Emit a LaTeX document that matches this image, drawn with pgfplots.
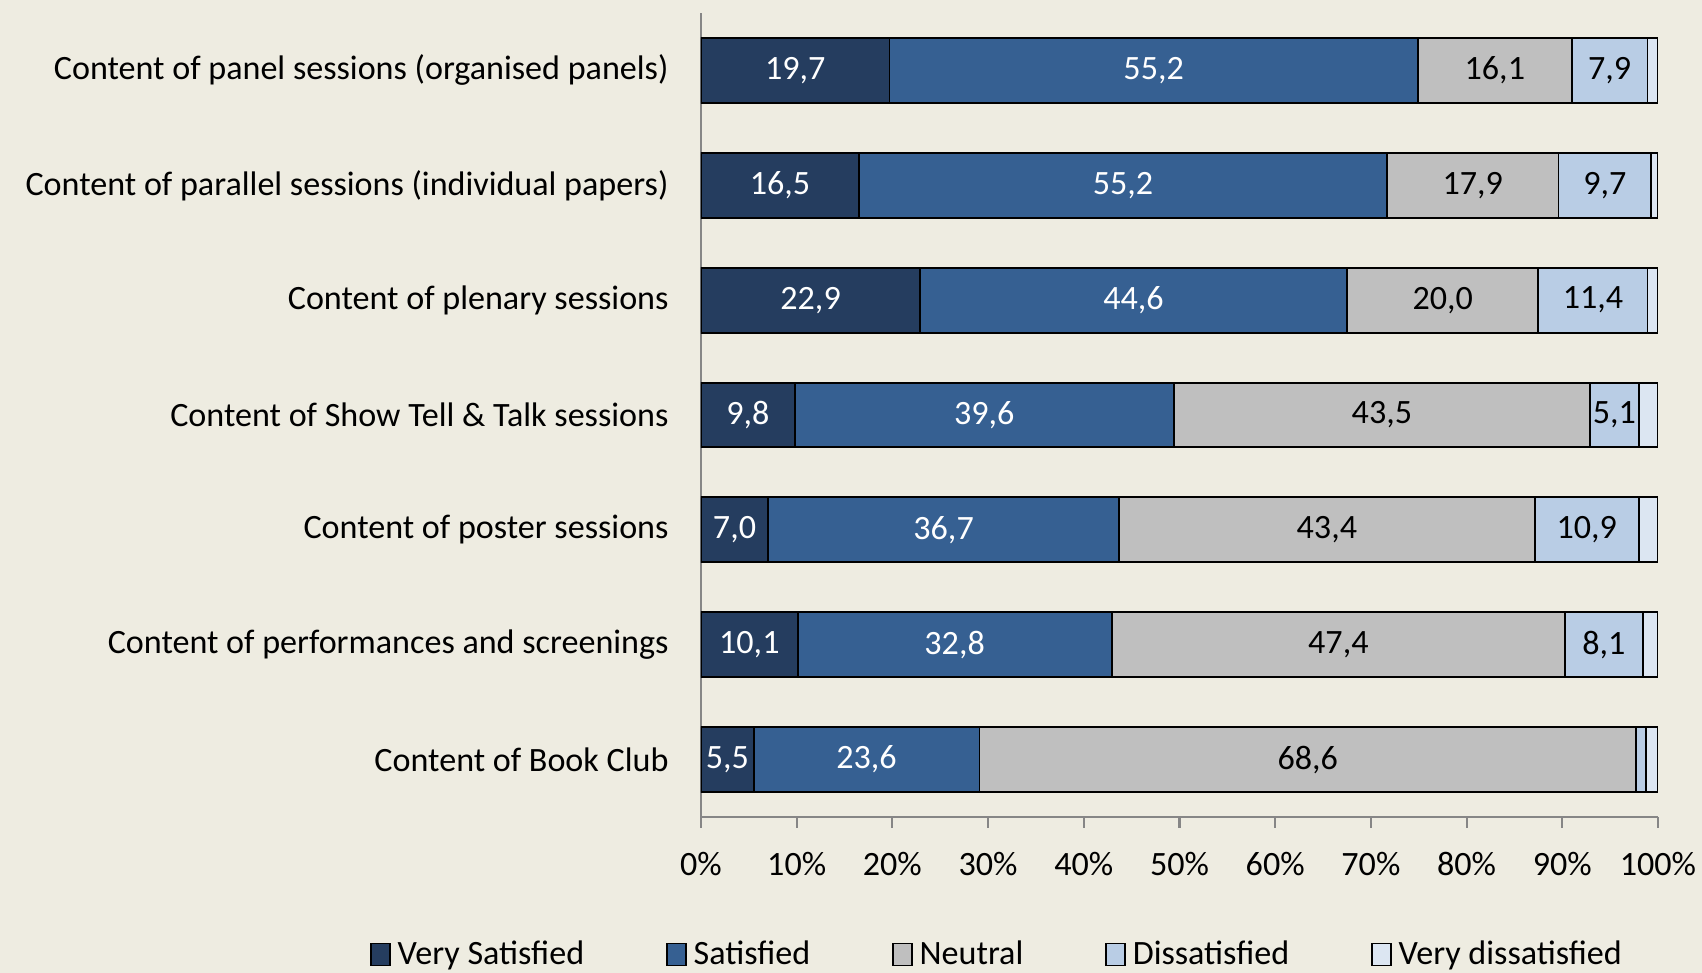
\documentclass[border=0pt]{standalone}
\usepackage{pgfplots}
\pgfplotsset{compat=1.18}
\usepackage{pgfplotstable}
\usepackage{fontspec}
\setmainfont{Carlito}

\definecolor{vsat}{RGB}{37,61,95}
\definecolor{sat}{RGB}{54,96,146}
\definecolor{neu}{RGB}{191,191,191}
\definecolor{dis}{RGB}{185,205,229}
\definecolor{vdis}{RGB}{220,230,242}
\definecolor{bgtan}{RGB}{238,236,225}
\definecolor{axgray}{RGB}{134,134,134}

% y: 7 = top row
\pgfplotstableread{
y vs   s    n    d    vd
7 19.7 55.2 16.1 7.9  1.1
6 16.5 55.2 17.9 9.7  0.7
5 22.9 44.6 20.0 11.4 1.1
4 9.8  39.6 43.5 5.1  2.0
3 7.0  36.7 43.4 10.9 2.0
2 10.1 32.8 47.4 8.1  1.6
1 5.5  23.6 68.6 1.0  1.3
}\ratings

\pgfplotsset{
  frame/.style={
    at={(7.01cm,1.56cm)}, anchor=south west,
    scale only axis, width=9.57cm, height=8.04cm,
    xmin=0, xmax=100, ymin=0.5, ymax=7.5,
  },
  seg/.style={fill=#1, draw=black, line width=0.55pt},
}

\begin{document}
\begin{tikzpicture}[font=\fontsize{9.7}{11.6}\selectfont]
\path[use as bounding box] (0,0) rectangle (17.02,9.73);
\fill[bgtan] (0,0) rectangle (17.02,9.73);

\begin{axis}[
  frame,
  xbar stacked, bar width=0.565,
  axis x line*=bottom, axis y line*=left,
  axis line style={axgray, line width=0.6pt, -},
  xtick={0,10,...,100},
  xticklabels={0\%,10\%,20\%,30\%,40\%,50\%,60\%,70\%,80\%,90\%,100\%},
  xticklabel style={yshift=-0.12cm},
  ytick={1,...,7},
  yticklabels={Content of Book Club,
    Content of performances and screenings,
    Content of poster sessions,
    Content of Show Tell \& Talk sessions,
    Content of plenary sessions,
    Content of parallel sessions (individual papers),
    Content of panel sessions (organised panels)},
  yticklabel style={xshift=-0.09cm},
  tick align=outside,
  major tick length=0.11cm,
  x tick style={axgray, line width=0.6pt},
  y tick style={draw=none},
  extra y ticks={0.5,1.5,...,7.5},
  extra y tick labels={},
  extra y tick style={tick style={draw=axgray, line width=0.6pt}},
  legend columns=5,
  legend style={at={(0.312,-0.172)}, anchor=center, draw=none, fill=none,
    /tikz/every even column/.append style={column sep=0.75cm}},
  legend image code/.code={\draw[#1, draw=black, line width=0.4pt] (0cm,-0.1cm) rectangle (0.19cm,0.12cm);},
]
\addplot[seg=vsat] table[x=vs, y=y]{\ratings};
\addplot[seg=sat]  table[x=s,  y=y]{\ratings};
\addplot[seg=neu]  table[x=n,  y=y]{\ratings};
\addplot[seg=dis]  table[x=d,  y=y]{\ratings};
\addplot[seg=vdis] table[x=vd, y=y]{\ratings};
\legend{Very Satisfied, Satisfied, Neutral, Dissatisfied, Very dissatisfied}
\end{axis}

% value labels, centred in each segment
\begin{axis}[
  frame, hide axis,
  nodes near coords, point meta=explicit,
  every node near coord/.append style={anchor=center},
  /pgf/number format/.cd, use comma, fixed, fixed zerofill, precision=1,
  assume math mode=true,
]
\addplot[draw=none, nodes near coords style={text=white}]
  table[x expr=\thisrow{vs}/2, y=y, meta=vs]{\ratings};
\addplot[draw=none, nodes near coords style={text=white}]
  table[x expr=\thisrow{vs}+\thisrow{s}/2, y=y, meta=s]{\ratings};
\addplot[draw=none, nodes near coords style={text=black}]
  table[x expr=\thisrow{vs}+\thisrow{s}+\thisrow{n}/2, y=y, meta=n]{\ratings};
\addplot[draw=none, nodes near coords style={text=black},
  restrict expr to domain={\thisrow{d}}{2:100}]
  table[x expr=\thisrow{vs}+\thisrow{s}+\thisrow{n}+\thisrow{d}/2, y=y, meta=d]{\ratings};
\end{axis}
\end{tikzpicture}
\end{document}
